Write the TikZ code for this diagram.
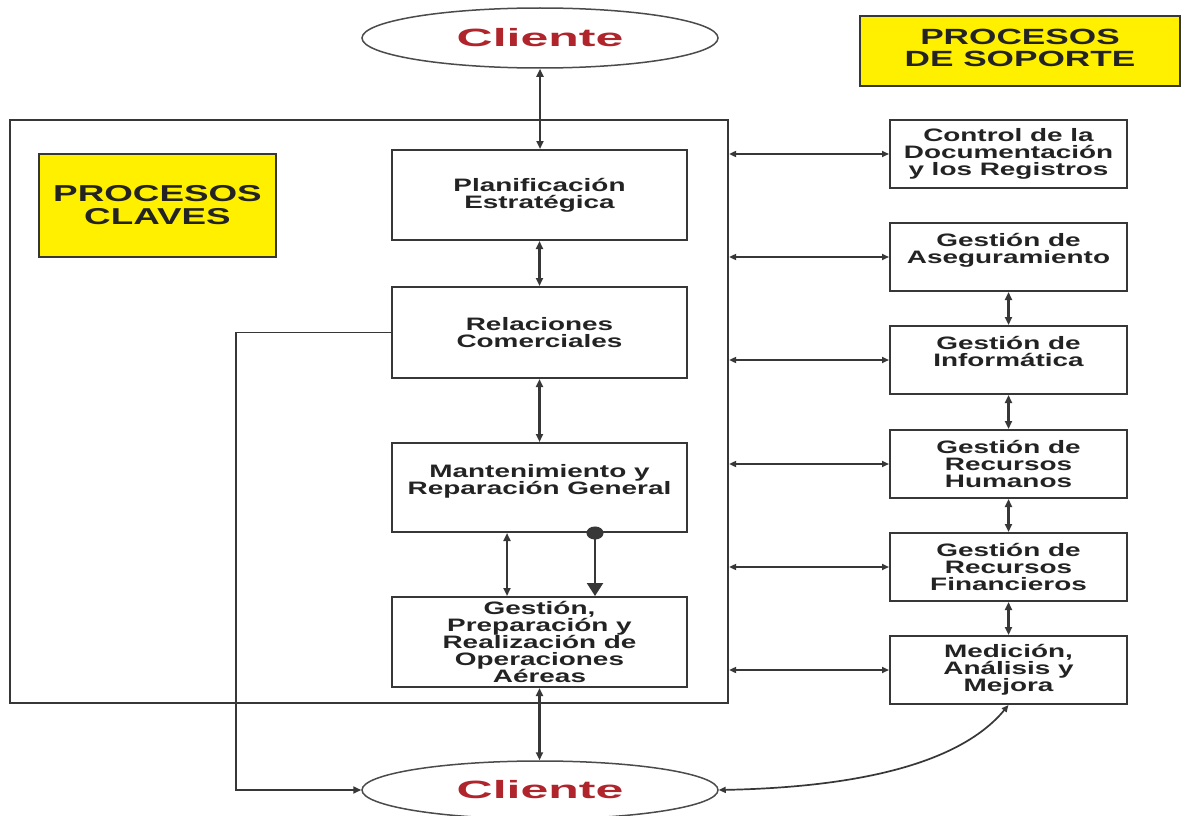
\documentclass[tikz,border=0pt]{standalone}
\usepackage{fontspec}
\setmainfont{Liberation Sans}
\newfontfamily\boxfont[FakeStretch=1.55]{Liberation Sans}
\newfontfamily\titlefont[FakeStretch=1.6]{Liberation Sans}
\newfontfamily\clifont[FakeStretch=2.0]{Liberation Sans}
\usetikzlibrary{shapes.geometric,arrows.meta}
\definecolor{frame}{RGB}{55,55,55}
\definecolor{clired}{RGB}{176,36,44}
\definecolor{ylw}{RGB}{255,240,0}
\definecolor{txt}{RGB}{35,35,35}
\definecolor{ellline}{RGB}{75,75,75}
\tikzset{
  procbox/.style={draw=frame, line width=2, fill=white, inner sep=0, align=center,
    text=txt, font=\boxfont\bfseries\fontsize{18}{17}\selectfont},
  titlebox/.style={draw=frame, line width=1.6, fill=ylw, inner sep=0, align=center,
    text=txt, font=\titlefont\bfseries\fontsize{23}{23}\selectfont},
  clientell/.style={ellipse, draw=ellline, line width=1.5, fill=white, inner sep=0,
    text=clired, font=\clifont\bfseries\fontsize{25}{25}\selectfont},
  vdbl/.style={draw=frame, line width=2.2, {Triangle[length=8,width=7]}-{Triangle[length=8,width=7]}},
  hdbl/.style={draw=frame, line width=1.7, {Triangle[length=7,width=6]}-{Triangle[length=7,width=6]}},
  single/.style={draw=frame, line width=1.8, -{Triangle[length=8,width=7]}},
}
\begin{document}
\begin{tikzpicture}[x=1pt,y=-1pt]
\useasboundingbox (0,0) rectangle (1183,816);
\fill[white] (0,0) rectangle (1183,816);

% key processes frame
\node[draw=frame, line width=2.2, minimum width=718, minimum height=583, inner sep=0] (keyproc) at (369,411.5) {};

% clients
\node[clientell, minimum width=356, minimum height=60] (cliT) at (540,38) {Cliente};
\node[clientell, minimum width=356, minimum height=58] (cliB) at (540,790) {Cliente};

% titles
\node[titlebox, minimum width=237, minimum height=103] (tclaves) at (157.5,205.5) {PROCESOS\\CLAVES};
\node[titlebox, minimum width=320, minimum height=70, font=\titlefont\bfseries\fontsize{22}{22}\selectfont] (tsoporte) at (1020,51) {\raisebox{4pt}{\begin{tabular}{@{}c@{}}PROCESOS\\DE SOPORTE\end{tabular}}};

% central boxes
\node[procbox, minimum width=295, minimum height=90] (plan) at (539.5,195) {Planificación\\Estratégica};
\node[procbox, minimum width=295, minimum height=91] (rel) at (539.5,332.5) {Relaciones\\Comerciales};
\node[procbox, minimum width=295, minimum height=89] (mant) at (539.5,487.5) {Mantenimiento y\\Reparación General\\\mbox{}};
\node[procbox, minimum width=295, minimum height=90] (gest) at (539.5,642) {Gestión,\\Preparación y\\Realización de\\Operaciones\\Aéreas};

% support boxes
\node[procbox, minimum width=237, minimum height=68] (ctrl) at (1008.5,154) {Control de la\\Documentación\\y los Registros};
\node[procbox, minimum width=237, minimum height=68] (aseg) at (1008.5,257) {Gestión de\\Aseguramiento\\\mbox{}};
\node[procbox, minimum width=237, minimum height=68] (inf) at (1008.5,360) {Gestión de\\Informática\\\mbox{}};
\node[procbox, minimum width=237, minimum height=68] (rh) at (1008.5,464) {Gestión de\\Recursos\\Humanos};
\node[procbox, minimum width=237, minimum height=68] (rf) at (1008.5,567) {Gestión de\\Recursos\\Financieros};
\node[procbox, minimum width=237, minimum height=68] (med) at (1008.5,670) {Medición,\\Análisis y\\Mejora};

% central connectors
\draw[vdbl] (cliT.south) -- (cliT.south |- plan.north);
\draw[vdbl] (plan.south) -- (rel.north);
\draw[vdbl] (rel.south) -- (mant.north);
\draw[vdbl] ([xshift=-32.5]mant.south) -- ([xshift=-32.5]gest.north);
\draw[draw=frame, line width=2.4, {Circle[length=13,width=17]}-{Triangle[length=13,width=16]}]
  ([xshift=55.5,yshift=6.5]mant.south) -- ([xshift=55.5]gest.north);
\draw[vdbl] (gest.south) -- (gest.south |- cliB.north);

% loop from Relaciones to bottom client
\draw[single] (rel.west) -- ++(-155,0) |- (cliB.west);

% support connectors
\draw[hdbl] (keyproc.east |- ctrl.west) -- (ctrl.west);
\draw[hdbl] (keyproc.east |- aseg.west) -- (aseg.west);
\draw[hdbl] (keyproc.east |- inf.west) -- (inf.west);
\draw[hdbl] (keyproc.east |- rh.west) -- (rh.west);
\draw[hdbl] (keyproc.east |- rf.west) -- (rf.west);
\draw[hdbl] (keyproc.east |- med.west) -- (med.west);

\draw[vdbl] (aseg.south) -- (inf.north);
\draw[vdbl] (inf.south) -- (rh.north);
\draw[vdbl] (rh.south) -- (rf.north);
\draw[vdbl] (rf.south) -- (med.north);

% curve from bottom client to Medicion
\draw[hdbl] (cliB.east) .. controls +(100,-2) and +(-58,70) .. (med.south);
\end{tikzpicture}
\end{document}
